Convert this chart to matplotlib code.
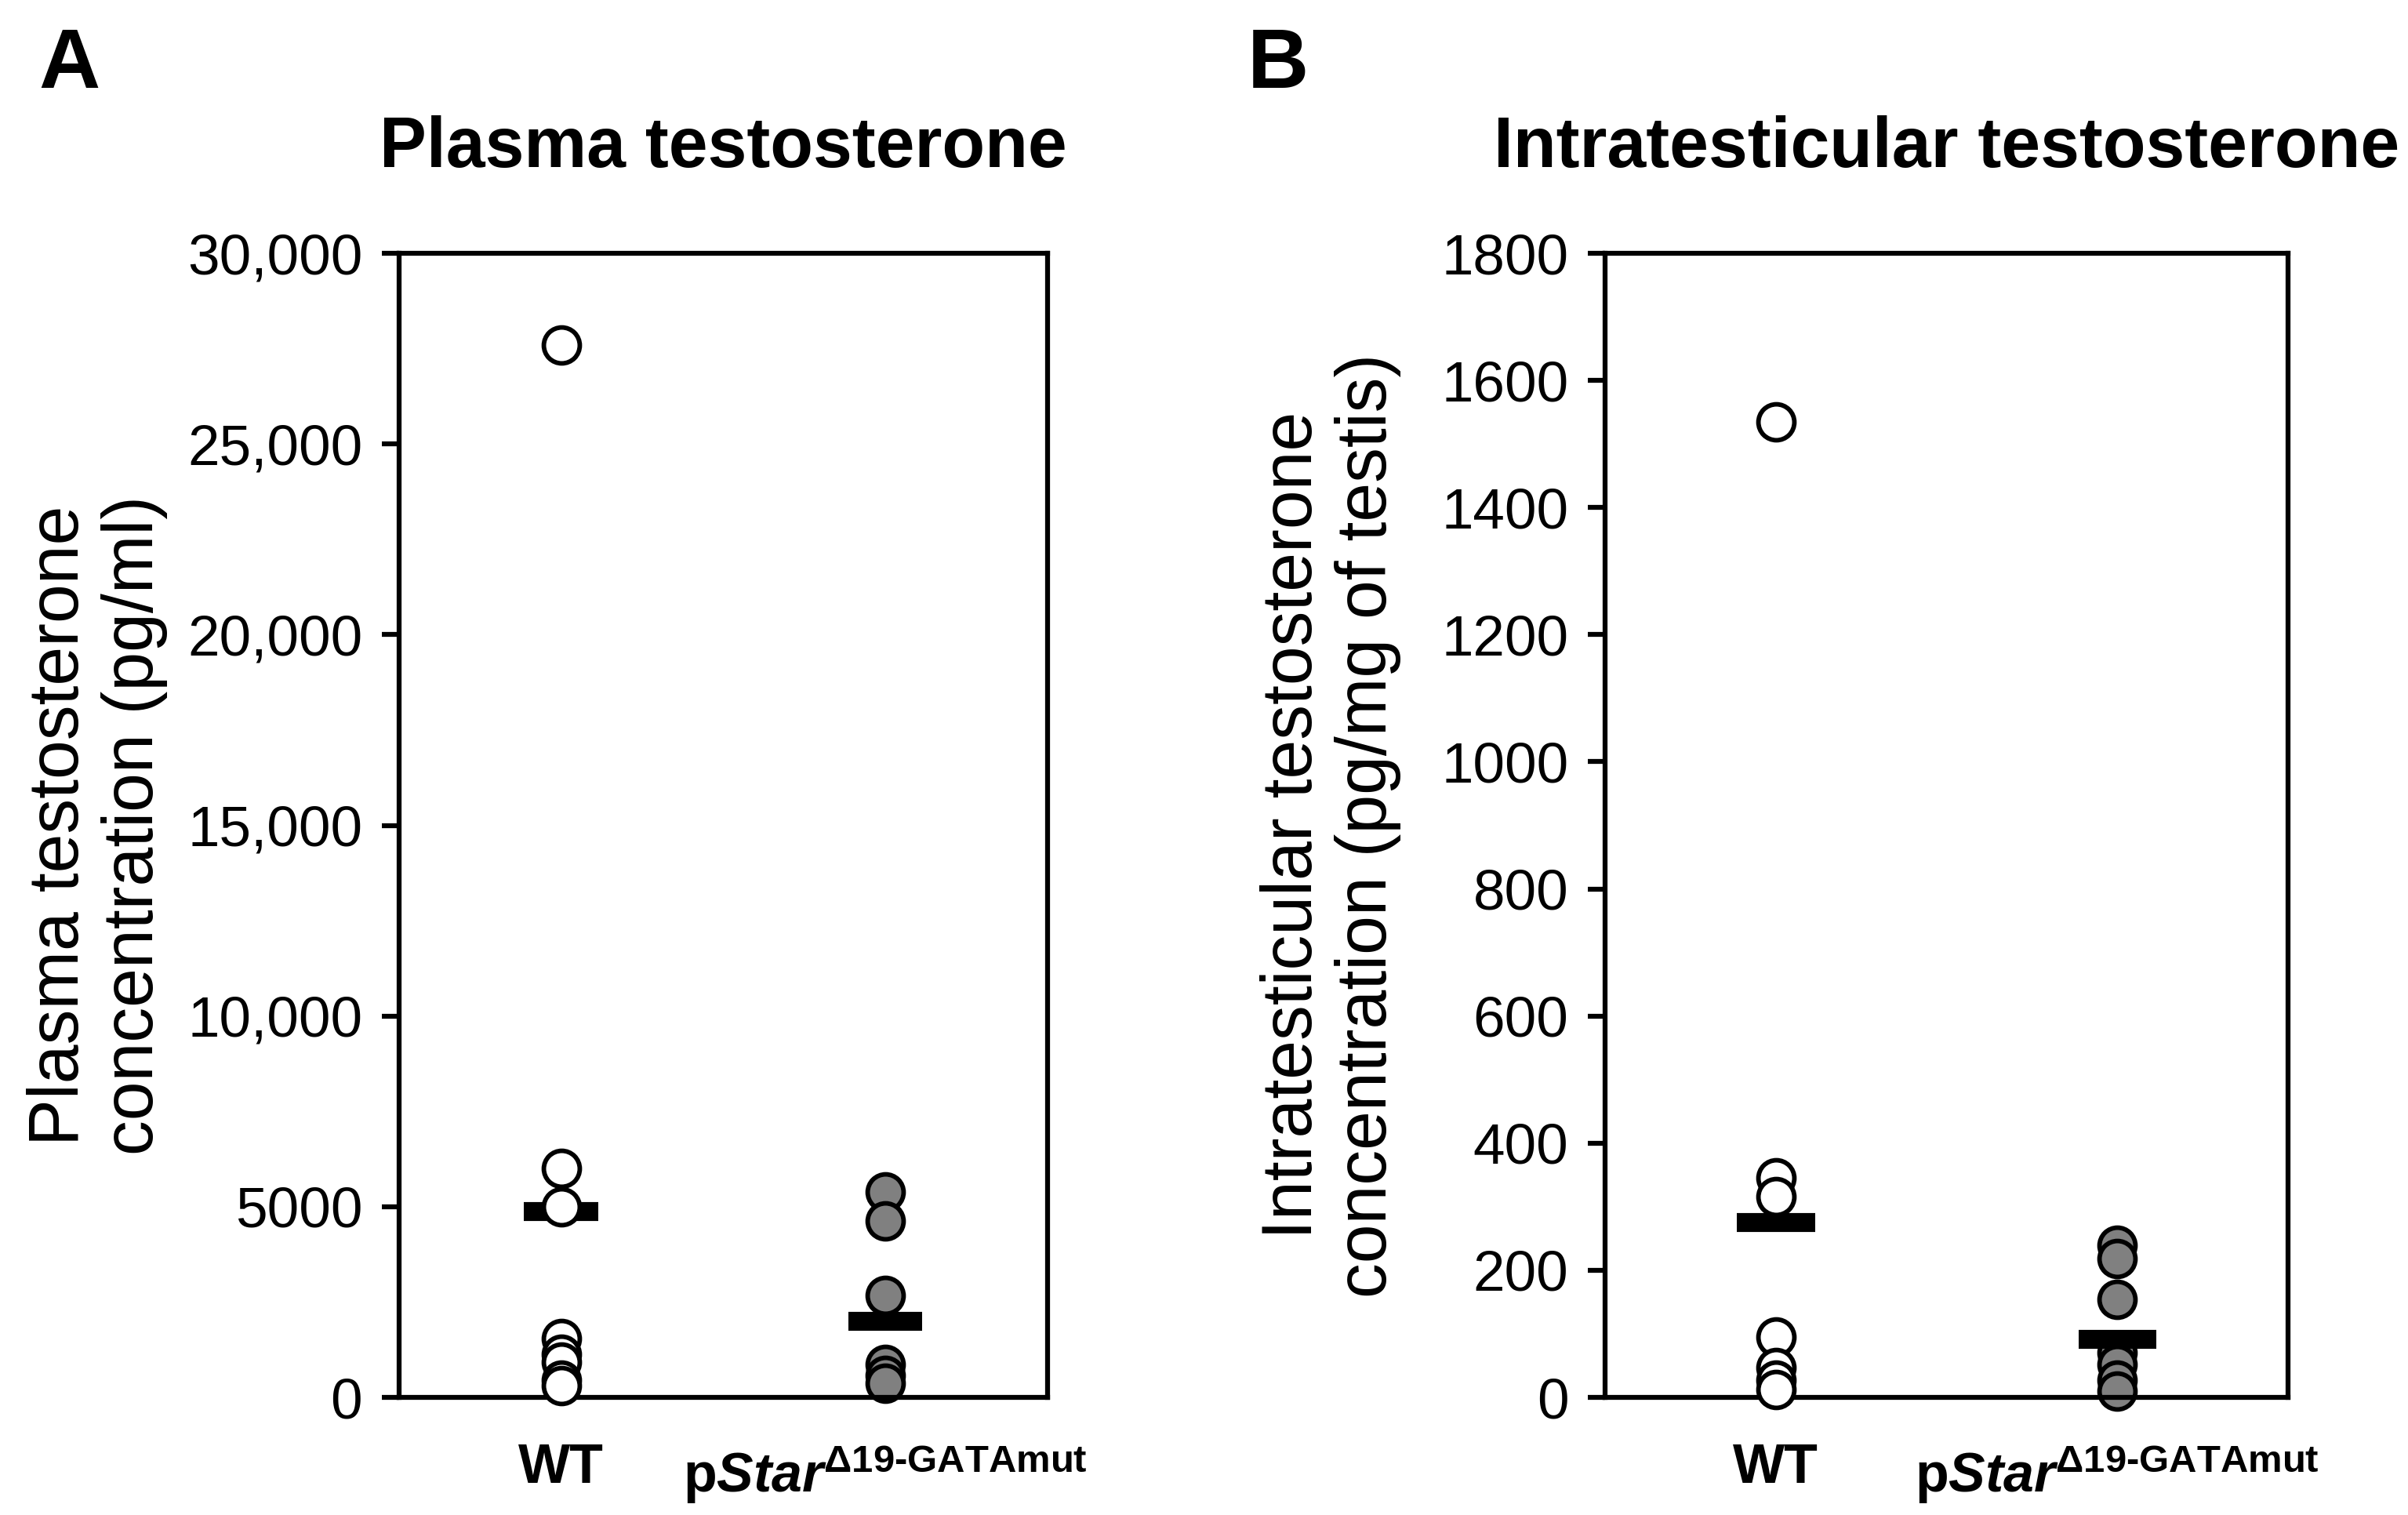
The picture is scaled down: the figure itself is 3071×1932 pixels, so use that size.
#!/usr/bin/env python3

import matplotlib
matplotlib.use('Agg')
import matplotlib.pyplot as plt

# values
groups = ['WT', r'$\mathbf{p}\mathbfit{Star}^{\mathbf{\Delta 19' + '\u2010'
          + r'GATAmut}}$']

plasma_wt = [27600, 6000, 5000, 1540, 1130, 920, 450, 310]
plasma_mut = [5380, 4620, 2670, 860, 575, 370]
plasma_mean = [4880, 2000]
plasma_ticks = [0, 5000, 10000, 15000, 20000, 25000, 30000]
plasma_ticklabels = ['0', '5000', '10,000', '15,000', '20,000', '25,000',
                     '30,000']

itt_wt = [1535, 345, 316, 95, 47, 27, 12]
itt_mut = [240, 219, 154, 71, 52, 27, 10]
itt_mean = [275, 92]
itt_ticks = list(range(0, 1801, 200))
itt_ticklabels = [str(t) for t in itt_ticks]

plt.rcParams['font.family'] = ['Liberation Sans', 'DejaVu Sans']
plt.rcParams['mathtext.fontset'] = 'custom'
plt.rcParams['mathtext.rm'] = 'Liberation Sans'
plt.rcParams['mathtext.bf'] = 'Liberation Sans:bold'
plt.rcParams['mathtext.it'] = 'Liberation Sans:italic'
plt.rcParams['mathtext.bfit'] = 'Liberation Sans:italic:bold'

W, H, DPI = 3071, 1932, 300
fig = plt.figure(figsize=(W / DPI, H / DPI), dpi=DPI)


def panel(rect, wt, mut, means, ticks, ticklabels, ymax, title, ylabel,
          label_x, letter, letter_x):
        ax = fig.add_axes(rect)
        ax.plot([1] * len(wt), wt, 'o', ms=11, mfc='white', mec='black',
                mew=1.4, clip_on=False, zorder=4)
        ax.plot([2] * len(mut), mut, 'o', ms=11, mfc='#808080',
                mec='black', mew=1.4, clip_on=False, zorder=2)
        ax.hlines(means, [0.886, 1.886], [1.114, 2.114], colors='black',
                  lw=5.8, zorder=3)
        ax.set_xlim(0.5, 2.5)
        ax.set_ylim(0, ymax)
        ax.set_yticks(ticks)
        ax.set_yticklabels(ticklabels, fontsize=17.5)
        ax.set_xticks([1, 2])
        ax.set_xticklabels(groups, fontsize=16.8, fontweight='bold')
        ax.tick_params(axis='x', length=0, pad=14)
        ax.tick_params(axis='y', length=5.2, width=1.5, pad=6)
        for s in ax.spines.values():
                s.set_linewidth(1.5)
        ax.set_ylabel(ylabel, fontsize=21.5, va='center', ha='center',
                      multialignment='center', linespacing=1.15)
        ax.yaxis.set_label_coords(label_x, 0.5)
        fig.text(rect[0] + rect[2] / 2, 0.9017, title, fontsize=21.5,
                 fontweight='bold', ha='center', va='center')
        fig.text(letter_x, 0.9565, letter, fontsize=26, fontweight='bold',
                 ha='left', va='center')
        return ax


panel([0.1657, 0.0776, 0.2693, 0.7552], plasma_wt, plasma_mut, plasma_mean,
      plasma_ticks, plasma_ticklabels, 30000, 'Plasma testosterone',
      'Plasma testosterone\nconcentration (pg/ml)', -0.4655, 'A', 0.016)
panel([0.6666, 0.0776, 0.2836, 0.7552], itt_wt, itt_mut, itt_mean,
      itt_ticks, itt_ticklabels, 1800, 'Intratesticular testosterone',
      'Intratesticular testosterone\nconcentration (pg/mg of testis)',
      -0.402, 'B', 0.518)

fig.savefig('out.png', dpi=DPI)
